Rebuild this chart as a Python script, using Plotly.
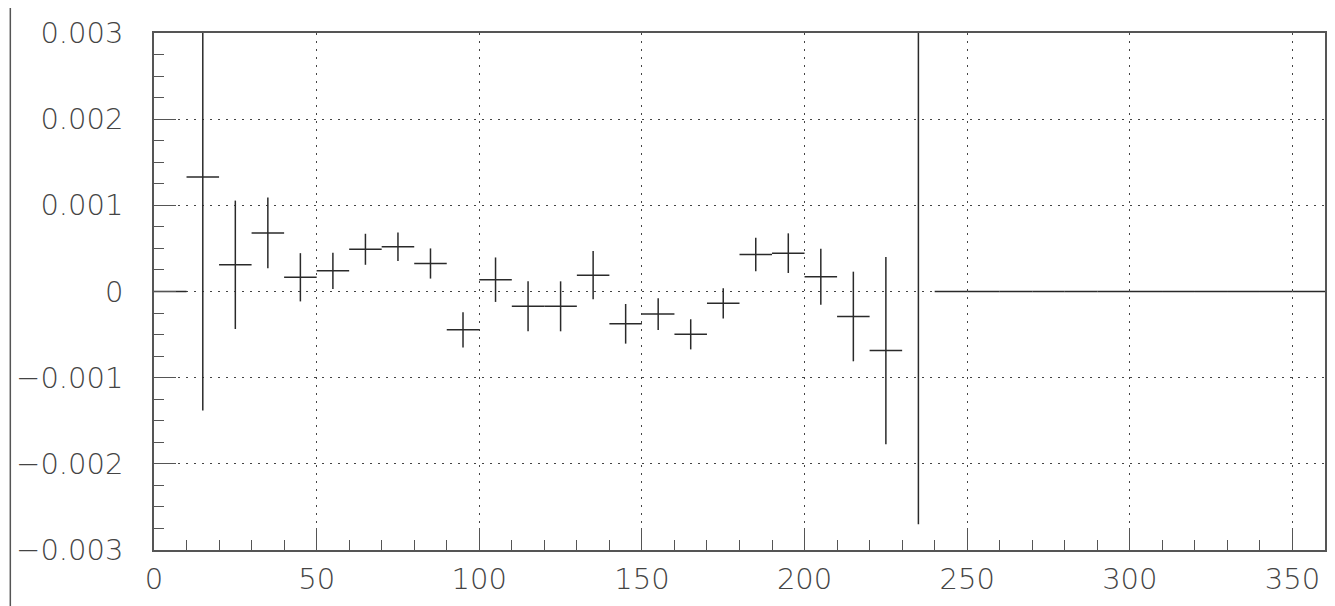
import plotly.graph_objects as go

# bin centres (x), values and errors
x_centers = [5, 15, 25, 35, 45, 55, 65, 75, 85, 95, 105, 115, 125, 135, 145, 155,
             165, 175, 185, 195, 205, 215, 225, 235,
             245, 255, 265, 275, 285, 295, 305, 315, 325, 335, 345, 355]
values = [0.0, 1.33e-3, 0.31e-3, 0.68e-3, 0.165e-3, 0.24e-3, 0.49e-3, 0.52e-3, 0.325e-3,
          -0.445e-3, 0.137e-3, -0.17e-3, -0.172e-3, 0.19e-3, -0.375e-3, -0.262e-3,
          -0.497e-3, -0.137e-3, 0.43e-3, 0.445e-3, 0.17e-3, -0.29e-3, -0.686e-3, 3.6e-3,
          0, 0, 0, 0, 0, 0, 0, 0, 0, 0, 0, 0]
errors = [0.0, 2.71e-3, 0.745e-3, 0.41e-3, 0.28e-3, 0.21e-3, 0.18e-3, 0.165e-3, 0.175e-3,
          0.205e-3, 0.258e-3, 0.29e-3, 0.29e-3, 0.28e-3, 0.23e-3, 0.185e-3,
          0.175e-3, 0.175e-3, 0.195e-3, 0.23e-3, 0.325e-3, 0.52e-3, 1.086e-3, 6.3e-3,
          0, 0, 0, 0, 0, 0, 0, 0, 0, 0, 0, 0]
half_widths = [5] * len(x_centers)

y_ticks = [-0.003, -0.002, -0.001, 0, 0.001, 0.002, 0.003]
x_ticks = [0, 50, 100, 150, 200, 250, 300, 350]

ink = "#2a2a2a"
font = dict(family="DejaVu Sans", size=29, color="#444444", weight=200)

fig = go.Figure()
fig.add_trace(go.Scatter(
    x=x_centers, y=values, mode="markers",
    marker=dict(size=0.1, color=ink),
    error_x=dict(type="data", array=half_widths, symmetric=True, width=0,
                 thickness=1.5, color=ink),
    error_y=dict(type="data", array=errors, symmetric=True, width=0,
                 thickness=1.5, color=ink),
    showlegend=False, hoverinfo="skip",
))

axis_common = dict(
    showline=True, linecolor="#555555", linewidth=1.5, mirror=True,
    ticks="inside", ticklen=22, tickwidth=1.3, tickcolor="#555555",
    showgrid=True, gridcolor="#444444", gridwidth=1.3, griddash="2px,6px",
    zeroline=False, tickfont=font,
)

fig.update_xaxes(range=[0, 360], tickvals=x_ticks, ticklabelstandoff=2,
                 minor=dict(dtick=10, tick0=0, ticks="inside", ticklen=10,
                            tickwidth=1.3, tickcolor="#555555", showgrid=False),
                 **axis_common)
fig.update_yaxes(range=[-0.003, 0.003], tickvals=y_ticks, ticklabelstandoff=23,
                 minor=dict(dtick=0.00025, tick0=0, ticks="inside", ticklen=10,
                            tickwidth=1.3, tickcolor="#555555", showgrid=False),
                 **axis_common)

fig.add_shape(type="line", xref="paper", yref="paper",
              x0=-0.1227, x1=-0.1227, y0=-0.2, y1=1.1,
              line=dict(color="#555555", width=1.5))

# page body has an 8px margin: figure sits at (8, 8)
fig.update_layout(
    width=1327, height=598,
    margin=dict(l=145, r=8, t=20, b=56),
    paper_bgcolor="white", plot_bgcolor="white",
)

fig.write_html("out.html")
